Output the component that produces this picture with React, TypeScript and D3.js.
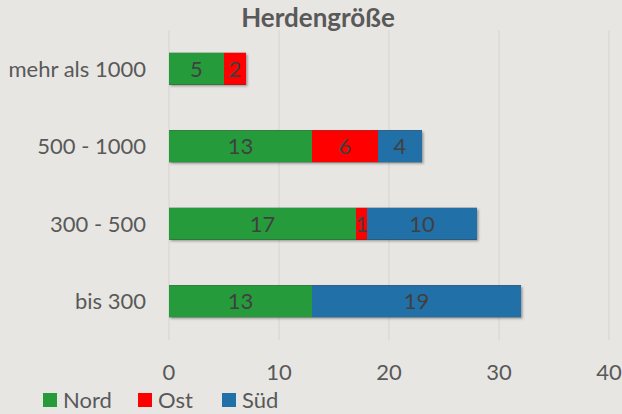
import React from 'react';
import * as d3 from 'd3';

const categories = ['mehr als 1000', '500 - 1000', '300 - 500', 'bis 300'];
const seriesNames = ['Nord', 'Ost', 'Süd'];
const nord = [5, 13, 17, 13];
const ost = [2, 6, 1, 0];
const sued = [0, 4, 10, 19];
const ticks = [0, 10, 20, 30, 40];
const colors = ['#269b3c', '#ff0000', '#2270a8'];

const W = 622;
const H = 414;
const FONT = 'Lato, "Open Sans", sans-serif';

export default function App() {
  const x = d3.scaleLinear().domain([0, 40]).range([169, 609]);
  const y = d3.scaleBand<string>().domain(categories).range([30, 340])
    .paddingInner(0.59).paddingOuter(0.295);

  const rows = categories.map((c, i) => ({ cat: c, Nord: nord[i], Ost: ost[i], 'Süd': sued[i] }));
  const stack = d3.stack<any>().keys(seriesNames)(rows);

  const legendX = [43, 138, 222];

  return (
    <svg width={W} height={H} style={{ position: 'absolute', left: 0, top: 0, background: '#e7e6e3' }}>
      <defs>
        <filter id="sh" x="-10%" y="-20%" width="130%" height="160%">
          <feDropShadow dx="1.5" dy="1.5" stdDeviation="1.2" floodColor="#000" floodOpacity="0.35" />
        </filter>
      </defs>
      <rect width={W} height={H} fill="#e7e6e3" />
      <text x={318} y={27} textAnchor="middle" fontFamily={FONT} fontWeight="bold" fontSize={26} fill="#595959">Herdengröße</text>
      {ticks.map(t => (
        <line key={t} x1={x(t)} x2={x(t)} y1={30} y2={340} stroke="#d6d4d1" strokeWidth={1} />
      ))}
      {ticks.map(t => (
        <text key={'t' + t} x={x(t)} y={380} textAnchor="middle" fontFamily={FONT} fontSize={22} fill="#595959">{t}</text>
      ))}
      {categories.map(c => (
        <text key={c} x={146} y={(y(c) as number) + y.bandwidth() / 2 + 8} textAnchor="end" fontFamily={FONT} fontSize={22} fill="#595959">{c}</text>
      ))}
      {categories.map((c, i) => {
        const total = nord[i] + ost[i] + sued[i];
        return (
          <rect key={'s' + c} x={x(0)} y={y(c)} width={x(total) - x(0)} height={y.bandwidth()} fill="#000" filter="url(#sh)" />
        );
      })}
      {stack.map((s, si) => (
        <g key={s.key}>
          {s.map((d, i) => d[1] - d[0] > 0 ? (
            <g key={i}>
              <rect x={x(d[0])} y={y(categories[i])} width={x(d[1]) - x(d[0])} height={y.bandwidth()} fill={colors[si]} />
              <text x={(x(d[0]) + x(d[1])) / 2} y={(y(categories[i]) as number) + y.bandwidth() / 2 + 8}
                textAnchor="middle" fontFamily={FONT} fontSize={22} fill="#404040">{d[1] - d[0]}</text>
            </g>
          ) : null)}
        </g>
      ))}
      {seriesNames.map((n, i) => (
        <g key={n}>
          <rect x={legendX[i]} y={393} width={14} height={14} fill={colors[i]} />
          <text x={legendX[i] + 20} y={408} fontFamily={FONT} fontSize={22} fill="#595959">{n}</text>
        </g>
      ))}
    </svg>
  );
}
